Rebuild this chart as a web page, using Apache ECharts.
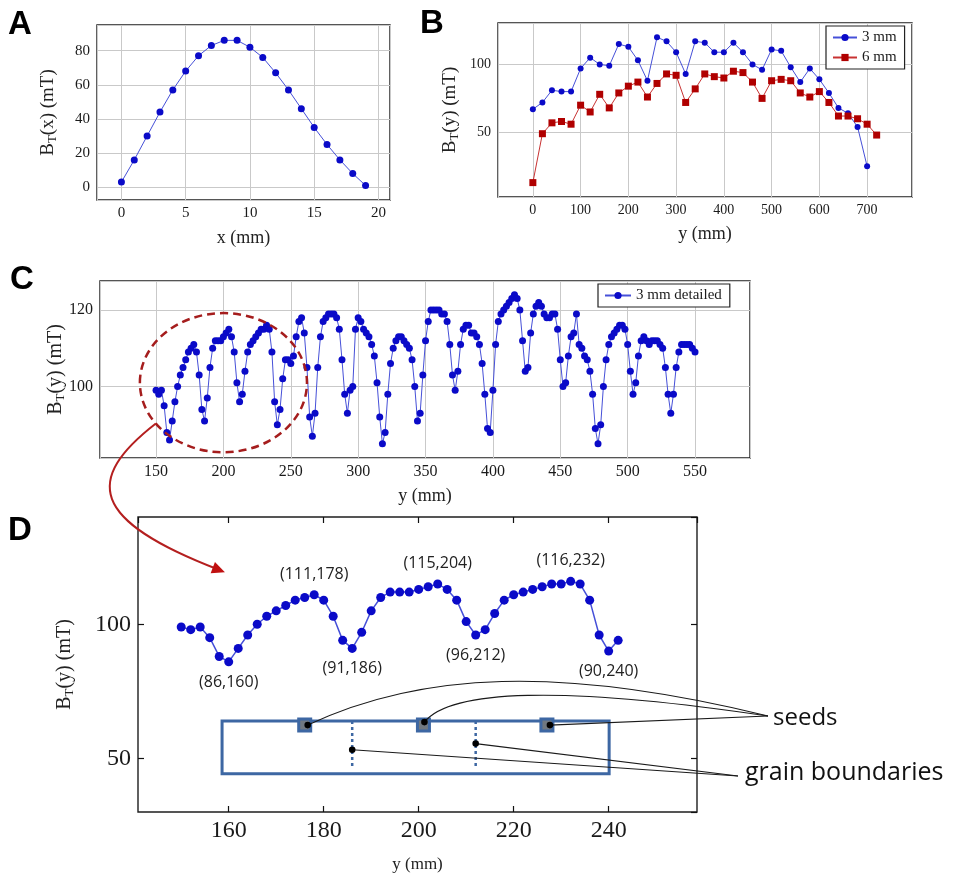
<!DOCTYPE html>
<html>
<head>
<meta charset="utf-8">
<title>B_T profiles</title>
<script src="https://cdn.jsdelivr.net/npm/echarts@6.0.0/dist/echarts.min.js"></script>
<style>
  html, body { margin: 0; padding: 0; background: #fff; }
  #chart { width: 975px; height: 878px; }
</style>
</head>
<body>
<div id="chart"></div>
<script>
// ---- panel A: B_T(x) across the width ----
const aX = [0, 1, 2, 3, 4, 5, 6, 7, 8, 9, 10, 11, 12, 13, 14, 15, 16, 17, 18, 19];
const aY = [3, 16, 30, 44, 57, 68, 77, 83, 86, 86, 82, 76, 67, 57, 46, 35, 25, 16, 8, 1];

// ---- panel B: B_T(y) at 3 mm and 6 mm ----
const bX3 = [0, 20, 40, 60, 80, 100, 120, 140, 160, 180, 200, 220, 240, 260, 280, 300, 320, 340,
  360, 380, 400, 420, 440, 460, 480, 500, 520, 540, 560, 580, 600, 620, 640, 660, 680, 700];
const bY3 = [67, 72, 81, 80, 80, 97, 105, 100, 99, 115, 113, 103, 88, 120, 117, 109, 93, 117,
  116, 109, 109, 116, 109, 100, 96, 111, 110, 98, 87, 97, 89, 79, 68, 64, 54, 25];
const bX6 = [0, 20, 40, 60, 80, 100, 120, 140, 160, 180, 200, 220, 240, 260, 280, 300, 320, 340,
  360, 380, 400, 420, 440, 460, 480, 500, 520, 540, 560, 580, 600, 620, 640, 660, 680, 700, 720];
const bY6 = [13, 49, 57, 58, 56, 70, 65, 78, 68, 79, 84, 87, 76, 86, 93, 92, 72, 82,
  93, 91, 90, 95, 94, 87, 75, 88, 89, 88, 79, 76, 80, 72, 62, 62, 60, 56, 48];

// ---- panel C: detailed scan at 3 mm ----
const cX = [
  150, 152, 154, 156, 158, 160, 162, 164, 166, 168,
  170, 172, 174, 176, 178, 180, 182, 184, 186, 188,
  190, 192, 194, 196, 198, 200, 202, 204, 206, 208,
  210, 212, 214, 216, 218, 220, 222, 224, 226, 228,
  230, 232, 234, 236, 238, 240, 242, 244, 246, 248,
  250, 252, 254, 256, 258, 260, 262, 264, 266, 268,
  270, 272, 274, 276, 278, 280, 282, 284, 286, 288,
  290, 292, 294, 296, 298, 300, 302, 304, 306, 308,
  310, 312, 314, 316, 318, 320, 322, 324, 326, 328,
  330, 332, 334, 336, 338, 340, 342, 344, 346, 348,
  350, 352, 354, 356, 358, 360, 362, 364, 366, 368,
  370, 372, 374, 376, 378, 380, 382, 384, 386, 388,
  390, 392, 394, 396, 398, 400, 402, 404, 406, 408,
  410, 412, 414, 416, 418, 420, 422, 424, 426, 428,
  430, 432, 434, 436, 438, 440, 442, 444, 446, 448,
  450, 452, 454, 456, 458, 460, 462, 464, 466, 468,
  470, 472, 474, 476, 478, 480, 482, 484, 486, 488,
  490, 492, 494, 496, 498, 500, 502, 504, 506, 508,
  510, 512, 514, 516, 518, 520, 522, 524, 526, 528,
  530, 532, 534, 536, 538, 540, 542, 544, 546, 548,
  550];
const cY = [
  99, 98, 99, 95, 88, 86, 91, 96, 100, 103,
  105, 107, 109, 110, 111, 109, 103, 94, 91, 97,
  105, 110, 112, 112, 112, 113, 114, 115, 113, 109,
  101, 96, 98, 104, 109, 111, 112, 113, 114, 115,
  115, 116, 115, 109, 96, 90, 94, 102, 107, 107,
  106, 108, 113, 117, 118, 114, 105, 92, 87, 93,
  105, 113, 117, 118, 119, 119, 119, 118, 115, 107,
  98, 93, 99, 100, 115, 118, 117, 115, 114, 113,
  111, 108, 101, 92, 85, 88, 98, 106, 110, 112,
  113, 113, 112, 111, 110, 107, 100, 91, 93, 103,
  112, 117, 120, 120, 120, 120, 119, 119, 117, 111,
  103, 99, 104, 111, 115, 116, 116, 114, 114, 113,
  111, 106, 98, 89, 88, 99, 111, 117, 119, 120,
  121, 122, 123, 124, 123, 120, 112, 104, 105, 114,
  119, 121, 122, 121, 119, 118, 118, 119, 119, 115,
  107, 100, 101, 108, 113, 114, 119, 111, 110, 108,
  107, 104, 98, 89, 85, 90, 100, 107, 111, 113,
  114, 115, 116, 116, 115, 111, 104, 98, 101, 108,
  112, 113, 112, 111, 112, 112, 112, 111, 110, 105,
  98, 93, 98, 105, 109, 111, 111, 111, 111, 110,
  109];

// ---- panel D: zoom of the circled part (same samples, 150..242) ----
const dEnd = 242;
const dMinima = [160, 186, 212, 240];
const dMaxima = [178, 204, 232];
const seedPos = [176, 201, 227];
const boundaryPos = [186, 212];

const serif = '"Liberation Serif", "DejaVu Serif", serif';
const sans = '"Open Sans", "Noto Sans", sans-serif';
const pairs = (xs, ys) => xs.map((x, i) => [x, ys[i]]);

function btName(arg, fs) {
  return {
    text: '{n|B}{s|T}{n|(' + arg + ') (mT)}',
    style: {
      rich: {
        n: { fontFamily: serif, fontSize: fs, color: '#222', lineHeight: 22, verticalAlign: 'middle' },
        s: { fontFamily: serif, fontSize: Math.round(fs * 0.66), color: '#222', lineHeight: 11, verticalAlign: 'bottom' }
      }
    }
  };
}

function axis(o) {
  const nm = o.name || {};
  return {
    type: 'value',
    gridIndex: o.grid,
    position: o.position,
    min: o.min, max: o.max, splitNumber: o.split,
    name: nm.text || '',
    nameLocation: 'middle',
    nameGap: o.nameGap || 0,
    nameRotate: o.rotate || 0,
    nameMoveOverlap: false,
    nameTextStyle: Object.assign({ fontFamily: serif, fontSize: o.nameSize || 18, color: '#222' }, nm.style || {}),
    axisLine: { show: false },
    axisTick: { show: !!o.ticks, inside: true, length: 6, lineStyle: { color: '#111', width: 1.2 } },
    axisLabel: {
      show: o.labels !== false, showMinLabel: false, showMaxLabel: false,
      fontFamily: serif, fontSize: o.fs || 15, color: '#1a1a1a', margin: o.margin || 6
    },
    splitLine: { show: !!o.gridLines, lineStyle: { color: '#c9c9c9', width: 1 } }
  };
}

const blueDot = '#0a0ac8', blueLine = '#4650d8';
const redDot = '#b00000', redLine = '#c83232';

const option = {
  animation: false,
  backgroundColor: '#fff',
  grid: [
    { left: 97, top: 25, width: 293, height: 175 },
    { left: 498, top: 23, width: 414, height: 174 },
    { left: 100, top: 281, width: 650, height: 177 },
    { left: 138, top: 517, width: 559, height: 295 }
  ].map(g => Object.assign(g, { show: true, borderColor: '#1e1e1e', borderWidth: 1.4, outerBoundsMode: 'none', containLabel: false })),
  legend: [
    {
      data: ['3 mm', '6 mm'], orient: 'vertical', left: 826, top: 26,
      padding: [4, 8, 4, 6], itemGap: 5, itemWidth: 24, itemHeight: 9, selectedMode: false,
      borderColor: '#222', borderWidth: 1.2, backgroundColor: '#fff',
      textStyle: { fontFamily: serif, fontSize: 15, color: '#1a1a1a' }
    },
    {
      data: ['3 mm detailed'], left: 598, top: 284,
      padding: [4, 8, 4, 6], itemWidth: 26, itemHeight: 9, selectedMode: false,
      borderColor: '#222', borderWidth: 1.2, backgroundColor: '#fff',
      textStyle: { fontFamily: serif, fontSize: 15, color: '#1a1a1a' }
    }
  ],
  xAxis: [
    axis({ grid: 0, min: -1.9, max: 20.9, split: 5, gridLines: true, fs: 15, name: { text: 'x (mm)' }, nameGap: 29 }),
    axis({ grid: 1, min: -73, max: 794, split: 9, gridLines: true, fs: 14, name: { text: 'y (mm)' }, nameGap: 28 }),
    axis({ grid: 2, min: 108.4, max: 590.8, split: 10, gridLines: true, fs: 16, name: { text: 'y (mm)' }, nameGap: 29 }),
    axis({ grid: 3, min: 140.9, max: 258.6, split: 6, ticks: true, fs: 24, margin: 7, name: { text: 'y (mm)' }, nameSize: 17, nameGap: 44 }),
    axis({ grid: 3, position: 'top', min: 140.9, max: 258.6, split: 6, ticks: true, labels: false })
  ],
  yAxis: [
    axis({ grid: 0, min: -7.5, max: 95, split: 5, gridLines: true, fs: 15, margin: 7, name: btName('x', 19), rotate: 90, nameGap: 38 }),
    axis({ grid: 1, min: 2.4, max: 130.5, split: 3, gridLines: true, fs: 14, margin: 7, name: btName('y', 19), rotate: 90, nameGap: 37 }),
    axis({ grid: 2, min: 81.3, max: 127.6, split: 2, gridLines: true, fs: 16, margin: 7, name: btName('y', 20), rotate: 90, nameGap: 33 }),
    axis({ grid: 3, min: 30, max: 140, split: 2, ticks: true, fs: 24, margin: 7, name: btName('y', 20), rotate: 90, nameGap: 62 }),
    axis({ grid: 3, position: 'right', min: 30, max: 140, split: 2, ticks: true, labels: false })
  ],
  series: [
    {
      type: 'line', xAxisIndex: 0, yAxisIndex: 0, data: pairs(aX, aY),
      symbol: 'circle', symbolSize: 7, itemStyle: { color: blueDot },
      lineStyle: { color: blueLine, width: 1 }
    },
    {
      name: '3 mm', type: 'line', xAxisIndex: 1, yAxisIndex: 1, data: pairs(bX3, bY3),
      symbol: 'circle', symbolSize: 6, itemStyle: { color: blueDot },
      lineStyle: { color: blueLine, width: 1 }
    },
    {
      name: '6 mm', type: 'line', xAxisIndex: 1, yAxisIndex: 1, data: pairs(bX6, bY6),
      symbol: 'rect', symbolSize: 7, itemStyle: { color: redDot },
      lineStyle: { color: redLine, width: 1 }
    },
    {
      name: '3 mm detailed', type: 'line', xAxisIndex: 2, yAxisIndex: 2, data: pairs(cX, cY),
      symbol: 'circle', symbolSize: 7, itemStyle: { color: blueDot },
      lineStyle: { color: blueLine, width: 1 }
    },
    {
      type: 'line', xAxisIndex: 3, yAxisIndex: 3,
      data: pairs(cX, cY).filter(p => p[0] <= dEnd).map(p => {
        const up = dMaxima.includes(p[0]), down = dMinima.includes(p[0]);
        if (!up && !down) return p;
        return {
          value: p,
          label: {
            show: true, position: up ? 'top' : 'bottom', distance: 8,
            formatter: '(' + p[1] + ',' + p[0] + ')',
            fontFamily: sans, fontSize: 16, color: '#222'
          }
        };
      }),
      symbol: 'circle', symbolSize: 9, itemStyle: { color: blueDot },
      lineStyle: { color: blueLine, width: 1.5 }
    }
  ]
};

const chart = echarts.init(document.getElementById('chart'), null, { renderer: 'canvas' });
chart.setOption(option);

// ---- annotations: ellipse + arrow, seeds / grain boundaries sketch ----
const px = (g, p) => chart.convertToPixel({ gridIndex: g }, p);
const g = [];

const ec = px(2, [200, 101]);
const erx = px(2, [262, 101])[0] - ec[0];
const ery = ec[1] - px(2, [200, 119.2])[1];
g.push({ type: 'ellipse', z: 20, shape: { cx: ec[0], cy: ec[1], rx: erx, ry: ery },
  style: { fill: 'none', stroke: '#a51d1d', lineWidth: 2.5, lineDash: [8, 5] } });

const a0 = [ec[0] + erx * Math.cos(Math.PI * 0.8), ec[1] + ery * Math.sin(Math.PI * 0.8)];
const a1 = px(3, [159.2, 119.4]);
const c1 = [a0[0] - 72, a0[1] + 56], c2 = [a1[0] - 135, a1[1] - 52];
g.push({ type: 'bezierCurve', z: 20,
  shape: { x1: a0[0], y1: a0[1], cpx1: c1[0], cpy1: c1[1], cpx2: c2[0], cpy2: c2[1], x2: a1[0] - 6, y2: a1[1] - 2.5 },
  style: { fill: 'none', stroke: '#b41f1f', lineWidth: 2 } });
const ang = Math.atan2(a1[1] - c2[1], a1[0] - c2[0]);
const hl = 13, hw = 6;
g.push({ type: 'polygon', z: 20, shape: { points: [
  a1,
  [a1[0] - hl * Math.cos(ang) + hw * Math.sin(ang), a1[1] - hl * Math.sin(ang) - hw * Math.cos(ang)],
  [a1[0] - hl * Math.cos(ang) - hw * Math.sin(ang), a1[1] - hl * Math.sin(ang) + hw * Math.cos(ang)]
] }, style: { fill: '#c01010' } });

const sketchBlue = '#3d67a3';
const r0 = px(3, [158.6, 63.9]), r1 = px(3, [240.1, 44.3]);
g.push({ type: 'rect', z: 20, shape: { x: r0[0], y: r0[1], width: r1[0] - r0[0], height: r1[1] - r0[1] },
  style: { fill: 'none', stroke: sketchBlue, lineWidth: 3 } });
boundaryPos.forEach(b => {
  const t = px(3, [b, 63.9]), u = px(3, [b, 46.3]);
  g.push({ type: 'line', z: 20, shape: { x1: t[0], y1: t[1], x2: u[0], y2: u[1] },
    style: { stroke: sketchBlue, lineWidth: 2.5, lineDash: [3, 3] } });
});
seedPos.forEach(s => {
  const c = px(3, [s, 62.4]);
  g.push({ type: 'rect', z: 21, shape: { x: c[0] - 6, y: c[1] - 6, width: 12, height: 12 },
    style: { fill: '#707880', stroke: sketchBlue, lineWidth: 3 } });
});

const seedsEnd = [768, 716], gbEnd = [738, 776];
const sd = seedPos.map((s, i) => { const c = px(3, [s, 62.4]); return [c[0] + (i === 1 ? 1 : 3), c[1] - (i === 1 ? 3 : 0)]; });
const bd = [px(3, [boundaryPos[0], 53.2]), px(3, [boundaryPos[1], 55.5])];
const ink = { fill: 'none', stroke: '#1a1a1a', lineWidth: 1.1 };
g.push({ type: 'bezierCurve', z: 22, shape: { x1: sd[0][0], y1: sd[0][1], cpx1: 420, cpy1: 672, cpx2: 560, cpy2: 665, x2: seedsEnd[0], y2: seedsEnd[1] }, style: ink });
g.push({ type: 'bezierCurve', z: 22, shape: { x1: sd[1][0], y1: sd[1][1], cpx1: 450, cpy1: 690, cpx2: 560, cpy2: 685, x2: seedsEnd[0], y2: seedsEnd[1] }, style: ink });
g.push({ type: 'line', z: 22, shape: { x1: sd[2][0], y1: sd[2][1], x2: seedsEnd[0], y2: seedsEnd[1] }, style: ink });
bd.forEach(p => g.push({ type: 'line', z: 22, shape: { x1: p[0], y1: p[1], x2: gbEnd[0], y2: gbEnd[1] }, style: ink }));
sd.concat(bd).forEach(p => g.push({ type: 'circle', z: 23, shape: { cx: p[0], cy: p[1], r: 3.3 }, style: { fill: '#000' } }));

g.push({ type: 'text', z: 22, style: { text: 'seeds', x: 773, y: 718, fill: '#111', fontFamily: sans, fontSize: 24, align: 'left', verticalAlign: 'middle' } });
g.push({ type: 'text', z: 22, style: { text: 'grain boundaries', x: 745, y: 773, fill: '#111', fontFamily: sans, fontSize: 25, align: 'left', verticalAlign: 'middle' } });

[['A', 8, 25], ['B', 420, 24], ['C', 10, 280], ['D', 8, 531]].forEach(([t, x, y]) => {
  g.push({ type: 'text', z: 30, style: { text: t, x: x, y: y, fill: '#000', fontFamily: '"Liberation Sans", Arial, sans-serif',
    fontWeight: 'bold', fontSize: 33, align: 'left', verticalAlign: 'middle' } });
});

chart.setOption({ graphic: g });
</script>
</body>
</html>
